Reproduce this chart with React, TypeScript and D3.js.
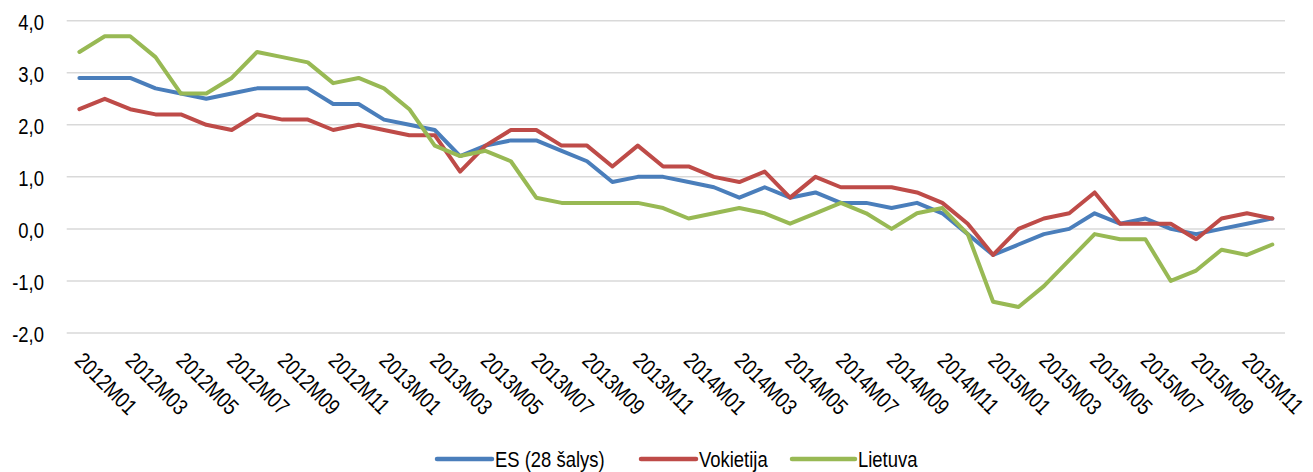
import React from "react";
import * as d3 from "d3";

const categories: string[] = [
  "2012M01","2012M02","2012M03","2012M04","2012M05","2012M06","2012M07","2012M08","2012M09","2012M10","2012M11","2012M12",
  "2013M01","2013M02","2013M03","2013M04","2013M05","2013M06","2013M07","2013M08","2013M09","2013M10","2013M11","2013M12",
  "2014M01","2014M02","2014M03","2014M04","2014M05","2014M06","2014M07","2014M08","2014M09","2014M10","2014M11","2014M12",
  "2015M01","2015M02","2015M03","2015M04","2015M05","2015M06","2015M07","2015M08","2015M09","2015M10","2015M11","2015M12",
];

const es28: number[] = [
  2.9, 2.9, 2.9, 2.7, 2.6, 2.5, 2.6, 2.7, 2.7, 2.7, 2.4, 2.4,
  2.1, 2.0, 1.9, 1.4, 1.6, 1.7, 1.7, 1.5, 1.3, 0.9, 1.0, 1.0,
  0.9, 0.8, 0.6, 0.8, 0.6, 0.7, 0.5, 0.5, 0.4, 0.5, 0.3, -0.1,
  -0.5, -0.3, -0.1, 0.0, 0.3, 0.1, 0.2, 0.0, -0.1, 0.0, 0.1, 0.2,
];

const vokietija: number[] = [
  2.3, 2.5, 2.3, 2.2, 2.2, 2.0, 1.9, 2.2, 2.1, 2.1, 1.9, 2.0,
  1.9, 1.8, 1.8, 1.1, 1.6, 1.9, 1.9, 1.6, 1.6, 1.2, 1.6, 1.2,
  1.2, 1.0, 0.9, 1.1, 0.6, 1.0, 0.8, 0.8, 0.8, 0.7, 0.5, 0.1,
  -0.5, 0.0, 0.2, 0.3, 0.7, 0.1, 0.1, 0.1, -0.2, 0.2, 0.3, 0.2,
];

const lietuva: number[] = [
  3.4, 3.7, 3.7, 3.3, 2.6, 2.6, 2.9, 3.4, 3.3, 3.2, 2.8, 2.9,
  2.7, 2.3, 1.6, 1.4, 1.5, 1.3, 0.6, 0.5, 0.5, 0.5, 0.5, 0.4,
  0.2, 0.3, 0.4, 0.3, 0.1, 0.3, 0.5, 0.3, 0.0, 0.3, 0.4, -0.1,
  -1.4, -1.5, -1.1, -0.6, -0.1, -0.2, -0.2, -1.0, -0.8, -0.4, -0.5, -0.3,
];

const yTicks: number[] = [-2, -1, 0, 1, 2, 3, 4];

const seriesNames: string[] = ["ES (28 šalys)", "Vokietija", "Lietuva"];
const seriesColors: string[] = ["#4A7EBB", "#BE4B48", "#98B954"];

const W = 1313;
const H = 472;
const plotLeft = 66.7;
const plotRight = 1285;
const yTop = 20.7;
const yBottom = 333;
const font = "'Liberation Sans', Arial, sans-serif";
const narrow = 0.82;
const fs = 22.5;

export default function App() {
  const x = d3.scalePoint<string>().domain(categories).range([plotLeft, plotRight]).padding(0.5);
  const y = d3.scaleLinear().domain([-2, 4]).range([yBottom, yTop]);
  const all = [es28, vokietija, lietuva];
  const line = d3
    .line<number>()
    .x((_, i) => x(categories[i]) as number)
    .y((d) => y(d));

  const legendItems = [
    { lx: 437, len: 55 },
    { lx: 641, len: 55 },
    { lx: 792, len: 63 },
  ];
  const legendY = 459;

  return (
    <svg
      width={W}
      height={H}
      style={{ position: "absolute", left: 0, top: 0, background: "#fff" }}
      fontFamily={font}
    >
      {yTicks.map((t) => (
        <g key={t}>
          <line x1={plotLeft} x2={plotRight} y1={y(t)} y2={y(t)} stroke="#D9D9D9" strokeWidth={1.5} />
          <text
            transform={`translate(44,${y(t) + 1}) scale(${narrow},1)`}
            textAnchor="end"
            dominantBaseline="central"
            fontSize={fs}
            fill="#000"
          >
            {d3.format(".1f")(t).replace(".", ",").replace("−", "-")}
          </text>
        </g>
      ))}
      {categories.map((c, i) =>
        i % 2 === 0 ? (
          <text
            key={c}
            transform={`translate(${(x(c) as number) - 6},${362}) rotate(45) scale(${narrow},1)`}
            fontSize={fs}
            fill="#000"
          >
            {c}
          </text>
        ) : null
      )}
      {all.map((s, k) => (
        <path
          key={k}
          d={line(s) || ""}
          fill="none"
          stroke={seriesColors[k]}
          strokeWidth={4}
          strokeLinejoin="round"
          strokeLinecap="round"
        />
      ))}
      {seriesNames.map((n, k) => (
        <g key={n}>
          <line
            x1={legendItems[k].lx}
            x2={legendItems[k].lx + legendItems[k].len}
            y1={legendY}
            y2={legendY}
            stroke={seriesColors[k]}
            strokeWidth={4.5}
            strokeLinecap="round"
          />
          <text
            transform={`translate(${legendItems[k].lx + legendItems[k].len + 3},${legendY}) scale(${narrow},1)`}
            dominantBaseline="central"
            fontSize={fs}
            fill="#000"
          >
            {n}
          </text>
        </g>
      ))}
    </svg>
  );
}
